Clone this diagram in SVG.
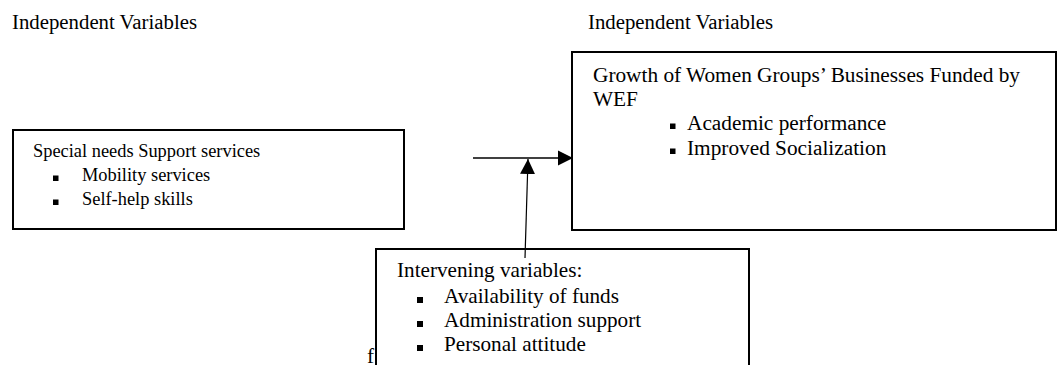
<svg xmlns="http://www.w3.org/2000/svg" width="1059" height="365" viewBox="0 0 1059 365">
<style>
text{font-family:"Liberation Serif","Times New Roman",serif;fill:#000}
.hdr{font-size:20.8px}
.s18{font-size:18.4px}
.s21{font-size:21.3px}
.s21b{font-size:21.2px}
.box{fill:#fff;stroke:#000;stroke-width:2}
.bul{fill:#000}
.conn{stroke:#000;fill:none}
</style>
<defs>
<marker id="ah" markerUnits="userSpaceOnUse" markerWidth="16" markerHeight="16" viewBox="0 0 16 16" refX="15" refY="8" orient="auto">
<path d="M0,0.5 L15,8 L0,15.5 Z" fill="#000"/>
</marker>
</defs>
<text class="hdr" x="12" y="29">Independent Variables</text>
<text class="hdr" x="588" y="29">Independent Variables</text>
<text class="s21b" x="367" y="363">f</text>
<g id="special-needs">
<rect class="box" x="13" y="130" width="391" height="99"/>
<text class="s18" x="33" y="157">Special needs Support services</text>
<rect class="bul" x="53" y="175.5" width="5.5" height="5.5"/>
<text class="s18" x="82" y="181">Mobility services</text>
<rect class="bul" x="53" y="199.5" width="5.5" height="5.5"/>
<text class="s18" x="82" y="205">Self-help skills</text>
</g>
<g id="growth">
<rect class="box" x="572" y="52" width="484" height="178"/>
<text class="s21" x="593" y="82">Growth of Women Groups’ Businesses Funded by</text>
<text class="s21" x="593" y="106">WEF</text>
<rect class="bul" x="670" y="123.5" width="5.5" height="5.5"/>
<text class="s21" x="687" y="130">Academic performance</text>
<rect class="bul" x="670" y="148.5" width="5.5" height="5.5"/>
<text class="s21" x="687" y="155">Improved Socialization</text>
</g>
<g id="intervening">
<rect class="box" x="376" y="249" width="373" height="130"/>
<text class="s21b" x="397" y="277">Intervening variables:</text>
<rect class="bul" x="417" y="297" width="6" height="6"/>
<text class="s21b" x="444" y="303">Availability of funds</text>
<rect class="bul" x="417" y="321" width="6" height="6"/>
<text class="s21b" x="444" y="327">Administration support</text>
<rect class="bul" x="417" y="345" width="6" height="6"/>
<text class="s21b" x="444" y="351">Personal attitude</text>
</g>
<g id="connectors">
<line class="conn" x1="473" y1="158" x2="573" y2="158" stroke-width="1.6" marker-end="url(#ah)"/>
<line class="conn" x1="525" y1="258" x2="528" y2="159" stroke-width="1.2" marker-end="url(#ah)"/>
</g>
</svg>
